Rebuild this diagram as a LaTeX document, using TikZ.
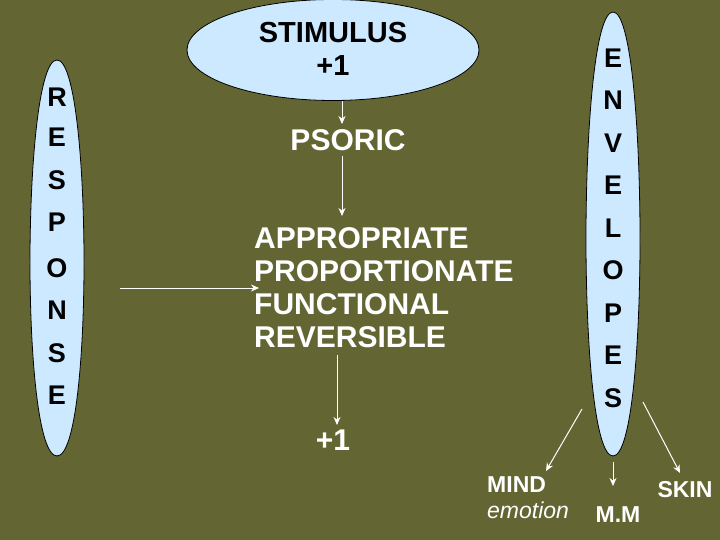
\documentclass[tikz,border=0pt]{standalone}
\usepackage{fontspec}
\setmainfont{Liberation Sans}
\usetikzlibrary{shapes.geometric,arrows.meta}
\definecolor{bg}{HTML}{636633}
\definecolor{blob}{HTML}{CCE9FF}
\begin{document}
\begin{tikzpicture}[x=1pt,y=-1pt,
  blobst/.style={draw=black,fill=blob,line width=0.8pt},
  lt/.style={font=\bfseries\fontsize{27}{27}\selectfont,text=black},
  wt/.style={font=\bfseries\fontsize{30}{33}\selectfont,text=white},
  sm/.style={font=\bfseries\fontsize{23}{26}\selectfont,text=white},
  arr/.style={draw=white,line width=1pt,-{Stealth[length=8pt,width=7pt]}}]
\fill[bg] (0,0) rectangle (720,540);
\useasboundingbox (0,0) rectangle (720,540);
% blobs
\fill[blobst] (57,456) .. controls (20,456) and (22,60) .. (57,60) .. controls (92,60) and (94,456) .. (57,456);
\fill[blobst] (613,456) .. controls (576,456) and (578,12) .. (613,12) .. controls (648,12) and (650,456) .. (613,456);
\node[blobst,ellipse,minimum width=292,minimum height=101,inner sep=0] (stim) at (333,50) {};
\node[lt,align=center,font=\bfseries\fontsize{29}{33}\selectfont] (stimt) at (333,49) {STIMULUS\\+1};
\foreach \l/\y [count=\i] in {R/97,E/137,S/180,P/222,O/268,N/310,S/353,E/395}
  \node[lt] (r\i) at (57,\y) {\l};
\foreach \l/\y [count=\i] in {E/58,N/100,V/143,E/185,L/228,O/270,P/313,E/355,S/398}
  \node[lt] (e\i) at (613,\y) {\l};
\node[wt] (psoric) at (348,140) {PSORIC};
\node[wt,align=left,anchor=base west,inner sep=0] (block) at (254,347) {APPROPRIATE\\PROPORTIONATE\\FUNCTIONAL\\REVERSIBLE};
\node[wt] (plus) at (333,440) {+1};
\node[sm,anchor=west,inner sep=0] (mind) at (487,485) {MIND};
\node[text=white,font=\itshape\fontsize{23}{26}\selectfont,anchor=west,inner sep=0] (emo) at (487,510) {emotion};
\node[sm] (mm) at (618,515) {M.M};
\node[sm] (skin) at (685,490) {SKIN};
\coordinate (a1) at (342,101); \coordinate (a2) at (342,124);
\coordinate (b1) at (342,156); \coordinate (b2) at (342,216);
\coordinate (c1) at (120,288); \coordinate (c2) at (259,288);
\coordinate (d1) at (337,355); \coordinate (d2) at (337,425);
\coordinate (m1) at (582,409); \coordinate (m2) at (546,471);
\coordinate (n1) at (613,462); \coordinate (n2) at (613,486);
\coordinate (s1) at (643,402); \coordinate (s2) at (680,473);
\draw[arr] (a1) -- (a2);
\draw[arr] (b1) -- (b2);
\draw[arr] (c1) -- (c2);
\draw[arr] (d1) -- (d2);
\draw[arr] (m1) -- (m2);
\draw[arr] (n1) -- (n2);
\draw[arr] (s1) -- (s2);
\end{tikzpicture}
\end{document}
